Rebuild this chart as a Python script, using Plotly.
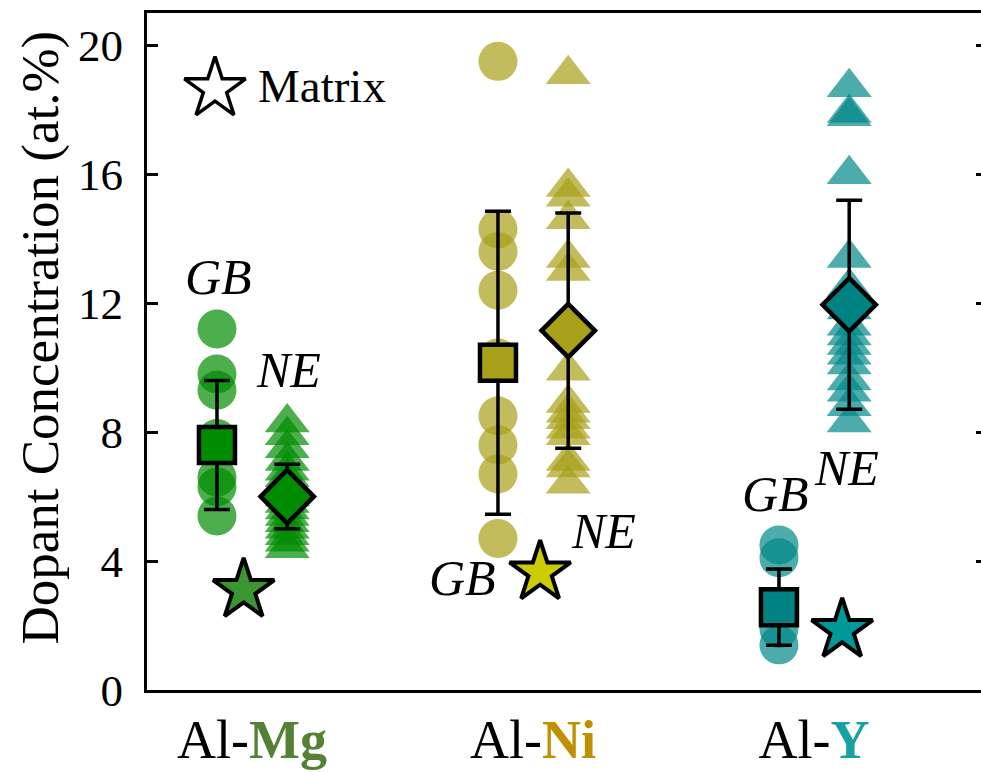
import plotly.graph_objects as go

# ---- data -------------------------------------------------------------
systems = ["Mg", "Ni", "Y"]
system_pos = [1, 2, 3]
tick_labels = [
    "Al-<b><span style='color:#548235'>Mg</span></b>",
    "Al-<b><span style='color:#BF9000'>Ni</span></b>",
    "Al-<b><span style='color:#17A2A2'>Y</span></b>",
]
y_ticks = [0, 4, 8, 12, 16, 20]

# individual grain-boundary (GB) and near-edge (NE) concentrations, at.%
gb_mg = [11.2, 9.8, 9.3, 7.8, 6.6, 6.3, 5.4]
ne_mg = [8.3, 7.9, 7.5, 7.1, 6.8, 6.6, 6.4, 6.2, 6.0, 5.8, 5.6, 5.4, 5.2, 5.0, 4.8, 4.6, 4.4]
gb_ni = [19.5, 14.3, 13.6, 12.4, 10.3, 8.5, 7.6, 6.7, 4.7]
ne_ni = [19.1, 15.6, 15.3, 14.6, 13.4, 13.0, 11.2, 9.9, 8.9, 8.6, 8.4, 8.1, 7.9, 7.1, 6.9, 6.4]
gb_y = [4.5, 4.1, 2.6, 1.9, 1.4]
ne_y = [18.7, 17.9, 17.8, 16.0, 13.4, 12.5, 11.8, 11.3, 11.0, 10.7, 10.4, 10.1, 9.6, 9.25, 8.8, 8.3]

# mean and standard deviation for each group
gb_mean = [7.6, 10.15, 2.57]
gb_std = [2.0, 4.7, 1.18]
ne_mean = [6.0, 11.15, 11.95]
ne_std = [1.0, 3.65, 3.24]

# matrix concentration
matrix_conc = [3.1, 3.65, 1.86]

gb_points = [gb_mg, gb_ni, gb_y]
ne_points = [ne_mg, ne_ni, ne_y]

# ---- styling ----------------------------------------------------------
FONT = "Liberation Serif"
point_rgb = ["0,140,0", "168,160,24", "0,136,136"]
mean_fill = ["rgb(0,140,0)", "rgb(168,160,24)", "rgb(0,130,130)"]
star_fill = ["rgb(58,150,48)", "rgb(204,204,0)", "rgb(0,153,153)"]
GB_OFF, NE_OFF = -0.125, 0.125
star_off = [-0.03, 0.025, 0.10]

fig = go.Figure()

for i, pos in enumerate(system_pos):
    fig.add_trace(go.Scatter(
        x=[pos + GB_OFF] * len(gb_points[i]), y=gb_points[i], mode="markers",
        marker=dict(symbol="circle", size=39, color=f"rgba({point_rgb[i]},0.7)",
                    line=dict(width=0)),
        showlegend=False, hoverinfo="y"))
    fig.add_trace(go.Scatter(
        x=[pos + NE_OFF] * len(ne_points[i]), y=ne_points[i], mode="markers",
        marker=dict(symbol="triangle-up", size=39, color=f"rgba({point_rgb[i]},0.7)",
                    line=dict(width=0)),
        showlegend=False, hoverinfo="y"))

err_style = dict(type="data", color="black", thickness=3.5, width=13, visible=True)

fig.add_trace(go.Scatter(
    x=[p + GB_OFF for p in system_pos], y=gb_mean, mode="markers",
    error_y=dict(array=gb_std, **err_style),
    marker=dict(symbol="square", size=36, color=mean_fill, line=dict(color="black", width=4.5)),
    showlegend=False))
fig.add_trace(go.Scatter(
    x=[p + NE_OFF for p in system_pos], y=ne_mean, mode="markers",
    error_y=dict(array=ne_std, **err_style),
    marker=dict(symbol="diamond", size=41, color=mean_fill, line=dict(color="black", width=4.5)),
    showlegend=False))
fig.add_trace(go.Scatter(
    x=[p + o for p, o in zip(system_pos, star_off)], y=matrix_conc, mode="markers",
    marker=dict(symbol="star", size=46, color=star_fill, line=dict(color="black", width=4)),
    showlegend=False))

# "Matrix" key
fig.add_trace(go.Scatter(
    x=[0.868], y=[18.65], mode="markers",
    marker=dict(symbol="star", size=46, color="white", line=dict(color="black", width=3.5)),
    showlegend=False, hoverinfo="skip"))
fig.add_annotation(x=1.015, y=18.73, xref="x", yref="y", text="Matrix", showarrow=False,
                   xanchor="left", yanchor="middle", font=dict(family=FONT, size=47, color="black"))

# group labels
group_labels = [
    ("GB", 0.879, 12.82), ("NE", 1.128, 9.92),
    ("GB", 1.747, 3.47), ("NE", 2.249, 4.94),
    ("GB", 2.861, 6.09), ("NE", 3.117, 6.90),
]
for txt, lx, ly in group_labels:
    fig.add_annotation(x=lx, y=ly, xref="x", yref="y", text=f"<i>{txt}</i>", showarrow=False,
                       xanchor="center", yanchor="middle",
                       font=dict(family=FONT, size=50, color="black"))

# y-axis title
fig.add_annotation(x=-0.128, y=0.521, xref="paper", yref="paper",
                   text="Dopant Concentration (at.%)", textangle=-90, showarrow=False,
                   xanchor="center", yanchor="middle",
                   font=dict(family=FONT, size=53, color="black"))

fig.update_layout(
    width=981, height=772,
    margin=dict(l=147, r=0, t=13, b=82),
    paper_bgcolor="white", plot_bgcolor="white",
    font=dict(family=FONT, size=44, color="black"),
    xaxis=dict(range=[0.626, 3.594], tickvals=system_pos, ticktext=tick_labels,
               ticks="", showline=True, linecolor="black", linewidth=3, mirror=True,
               showgrid=False, zeroline=False, tickfont=dict(family=FONT, size=54)),
    yaxis=dict(range=[0, 21], tickvals=y_ticks, ticks="inside", ticklen=11,
               tickwidth=2.5, tickcolor="black", showline=True, linecolor="black", linewidth=3,
               showgrid=False, zeroline=False, tickfont=dict(family=FONT, size=45),
               ticklabelstandoff=12),
    yaxis2=dict(range=[0, 21], overlaying="y", side="right", tickvals=y_ticks,
                ticks="inside", ticklen=5, tickwidth=2.5, tickcolor="black",
                showticklabels=False, showline=False, showgrid=False, zeroline=False),
)
# empty trace so the right-hand tick axis is drawn
fig.add_trace(go.Scatter(x=[None], y=[None], yaxis="y2", showlegend=False, hoverinfo="skip"))

fig.write_html("out.html")
